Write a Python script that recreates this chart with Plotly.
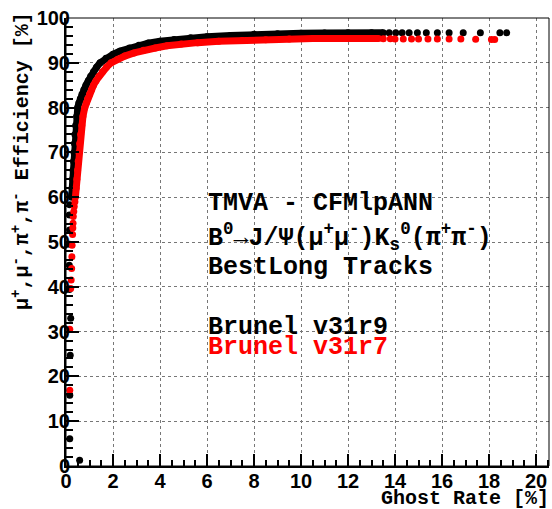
import plotly.graph_objects as go

# ---------------- data ----------------
# Brunel v31r9 (black)
black_low_x = [0.58, 0.16, 0.16, 0.18, 0.20, 0.14, 0.14, 0.15, 0.15, 0.14, 0.16]
black_low_y = [1.3, 6.1, 15.8, 24.7, 33.0, 39.4, 44.8, 49.5, 52.7, 56.0, 58.3]
black_dense_x = [0.24, 0.26, 0.28, 0.30, 0.32, 0.34, 0.36, 0.38, 0.41, 0.45, 0.50, 0.55, 0.61,
                 0.68, 0.76, 0.85, 0.95, 1.05, 1.17, 1.30, 1.45, 1.70, 2.0, 2.3, 2.7, 3.1, 3.5,
                 4.0, 4.6, 5.3, 6.0, 7.0, 8.0, 9.0, 10.0, 11.0, 12.0, 13.0, 13.5]
black_dense_y = [60, 62, 64, 66, 68, 70, 72, 74, 76, 78, 80, 81, 82,
                 83, 84, 85, 86, 87, 88, 89, 90, 91, 91.9, 92.6, 93.3, 93.9, 94.4,
                 94.8, 95.2, 95.6, 95.8, 96.1, 96.35, 96.5, 96.6, 96.65, 96.7, 96.7, 96.7]
black_tail_x = [13.75, 14.03, 14.3, 14.6, 14.95, 15.33, 15.8, 16.3, 16.9, 17.63, 18.46, 18.75]
black_tail_y = [96.7, 96.7, 96.7, 96.7, 96.7, 96.7, 96.7, 96.7, 96.7, 96.7, 96.7, 96.7]

# Brunel v31r7 (red)
red_low_x = [0.16, 0.16, 0.20, 0.22, 0.24, 0.25, 0.26, 0.28, 0.29, 0.30, 0.31, 0.33, 0.35, 0.38]
red_low_y = [16.9, 30.5, 39.6, 41.5, 44.1, 46.7, 49.3, 51.7, 53.1, 54.2, 55.7, 56.8, 57.9, 59.0]
red_dense_x = [0.40, 0.43, 0.46, 0.49, 0.52, 0.55, 0.58, 0.62, 0.67, 0.72, 0.80, 0.86, 0.92,
               1.0, 1.08, 1.17, 1.28, 1.40, 1.55, 1.72, 1.92, 2.2, 2.5, 2.9, 3.3, 3.8, 4.3,
               4.9, 5.6, 6.5, 7.5, 8.5, 9.5, 10.5, 11.5, 12.5, 13.3]
red_dense_y = [60, 62, 64, 66, 68, 70, 72, 74, 76, 78, 80, 81, 82,
               83, 84, 85, 86, 87, 88, 89, 90, 90.8, 91.5, 92.2, 92.8, 93.3, 93.8,
               94.2, 94.5, 94.8, 95.0, 95.15, 95.3, 95.4, 95.4, 95.4, 95.4]
red_tail_x = [13.5, 13.8, 14.0, 14.35, 14.7, 15.0, 15.4, 15.8, 16.3, 16.8, 17.43, 18.1, 18.24]
red_tail_y = [95.35, 95.35, 95.3, 95.3, 95.3, 95.3, 95.3, 95.3, 95.3, 95.3, 95.25, 95.2, 95.2]

x_ticks = list(range(0, 21, 2))
y_ticks = list(range(0, 101, 10))

# ---------------- figure ----------------
W, H = 552, 509
L, R, T, B = 66, 3, 18, 43
PW, PH = W - L - R, H - T - B


def px(xp):
    return (xp - L) / PW


def py(yp):
    return (H - B - yp) / PH


MS = 7
fig = go.Figure()
for col, lx, ly, dx, dy, tx, ty in [
    ("#000000", black_low_x, black_low_y, black_dense_x, black_dense_y, black_tail_x, black_tail_y),
    ("#ff0000", red_low_x, red_low_y, red_dense_x, red_dense_y, red_tail_x, red_tail_y),
]:
    fig.add_trace(go.Scatter(x=dx, y=dy, mode="lines+markers",
                             line=dict(color=col, width=MS),
                             marker=dict(color=col, size=MS), showlegend=False,
                             hoverinfo="skip"))
    fig.add_trace(go.Scatter(x=lx + tx, y=ly + ty, mode="markers",
                             marker=dict(color=col, size=MS), showlegend=False,
                             hoverinfo="skip"))

tickfont = dict(family="Liberation Sans", size=20, color="black", weight="bold")
common = dict(ticks="inside", tickwidth=1.5, tickcolor="black",
              showgrid=True, gridcolor="#777777", griddash="dot", gridwidth=1,
              showline=True, linewidth=2, linecolor="black", zeroline=False,
              tickfont=tickfont, automargin=False)
fig.update_xaxes(range=[0, 20.55], tickmode="array", tickvals=x_ticks,
                 ticktext=["<b>%d</b>" % v for v in x_ticks], ticklen=12, ticklabelstandoff=-4,
                 minor=dict(ticks="inside", ticklen=6, tickwidth=1.5, tickcolor="black",
                            dtick=0.5, tick0=0, showgrid=False), **common)
fig.update_yaxes(range=[0, 100], tickmode="array", tickvals=y_ticks,
                 ticktext=["<b>%d</b>" % v for v in y_ticks], ticklen=13, ticklabelstandoff=-10,
                 minor=dict(ticks="inside", ticklen=7, tickwidth=1.5, tickcolor="black",
                            dtick=2, tick0=0, showgrid=False), **common)

mono = "Liberation Mono, Courier New, monospace"
ann = []
ann.append(dict(text="<b>Ghost Rate [%]</b>", x=px(551), y=py(499), xanchor="right", yanchor="middle",
                font=dict(family=mono, size=20, color="black")))
ann.append(dict(text="<b>μ<sup>+</sup>,μ<sup>-</sup>,π<sup>+</sup>,π<sup>-</sup> Efficiency [%]</b>",
                x=px(21), y=py(161), xanchor="center", yanchor="middle", textangle=-90,
                font=dict(family=mono, size=20, color="black")))
lines = [
    ("TMVA - CFMlpANN", 203, "black"),
    ("B<sup>0</sup>→J/Ψ(μ<sup>+</sup>μ<sup>-</sup>)K<sub>s</sub><sup>0</sup>(π<sup>+</sup>π<sup>-</sup>)", 237, "black"),
    ("BestLong Tracks", 267, "black"),
    ("Brunel v31r9", 327, "black"),
    ("Brunel v31r7", 347, "#ff0000"),
]
for txt, yp, c in lines:
    ann.append(dict(text="<b>" + txt + "</b>", x=px(206), y=py(yp), xanchor="left", yanchor="middle",
                    font=dict(family=mono, size=25, color=c)))
for a in ann:
    a.update(xref="paper", yref="paper", showarrow=False)

fig.update_layout(template="none", width=W, height=H,
                  margin=dict(l=L, r=R, t=T, b=B, pad=0, autoexpand=False),
                  plot_bgcolor="white", paper_bgcolor="white", annotations=ann,
                  shapes=[dict(type="rect", xref="paper", yref="paper", x0=0, x1=1, y0=0, y1=1,
                               line=dict(color="black", width=1), layer="above")])
fig.write_html("out.html", config={"displayModeBar": False},
               post_script="document.body.style.margin='0';document.body.style.overflow='hidden';")
